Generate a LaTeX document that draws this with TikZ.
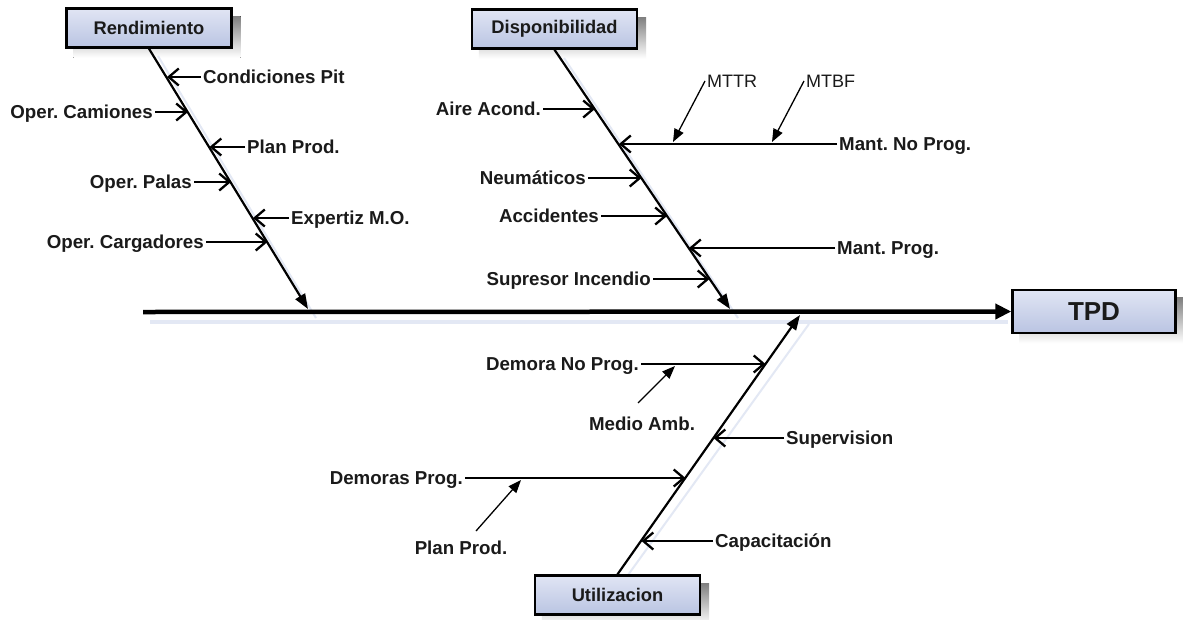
\documentclass[tikz,border=0pt]{standalone}
\usepackage{fontspec}
\setmainfont{Liberation Sans}
\usetikzlibrary{arrows.meta,calc}
\definecolor{boxtop}{HTML}{E0E5F4}
\definecolor{boxbot}{HTML}{BAC4E2}
\definecolor{shade}{HTML}{E3E8F4}
\definecolor{ink}{HTML}{1A1A1A}
\frenchspacing
\begin{document}
\begin{tikzpicture}[x=1pt,y=-1pt,
  catbox/.style={draw=black,line width=2.4pt,top color=boxtop,bottom color=boxbot,
    minimum width=165pt,minimum height=39pt,inner sep=0pt,text=ink,
    font=\bfseries\fontsize{18.3}{20}\selectfont},
  lbl/.style={font=\bfseries\fontsize{18.7}{20}\selectfont,text=ink,inner sep=2pt,
    text height=13.5pt,text depth=0pt},
  note/.style={font=\fontsize{18}{20}\selectfont,text=ink,inner sep=2pt,
    text height=13.5pt,text depth=0pt},
  branch/.style={line width=2.3pt,-{Straight Barb[length=10pt,width=17pt]}},
  spine/.style={line width=2.2pt,-{Triangle[length=15pt,width=11pt]}},
  mainline/.style={line width=4.5pt,-{Triangle[length=16pt,width=15pt]}},
  thin/.style={line width=1.3pt,-{Triangle[length=13pt,width=10pt]}},
  shadowline/.style={draw=shade,line width=3pt}]
\useasboundingbox (0,0) rectangle (1183,619);
\fill[white] (0,0) rectangle (1183,619);

% category boxes and effect box (placed first so their anchors exist)
\node[catbox] (rend) at (149,28) {Rendimiento};
\node[catbox] (disp) at (554.5,29) {Disponibilidad};
\node[catbox] (util) at (617.5,595) {Utilizacion};
\node[catbox,minimum width=163pt,minimum height=43pt,
      font=\bfseries\fontsize{26}{28}\selectfont] (tpd) at (1094,311.5) {TPD};

% soft shadows behind boxes and main lines
\foreach \b in {rend,disp,util,tpd}{
  \fill[shade] ($(\b.south west)+(8,9)$) rectangle ($(\b.north east)+(8,9)$);
}
\draw[shadowline,line width=4pt] (150,322) -- (1008,322);
\draw[shadowline,line width=2pt] (158,56) -- (316,318);
\draw[shadowline,line width=2pt] (564,58) -- (738,318);
\draw[shadowline,line width=2pt] (628,575) -- (809,324);

% boxes drawn again above their shadows
\node[catbox] at (rend) {Rendimiento};
\node[catbox] at (disp) {Disponibilidad};
\node[catbox] at (util) {Utilizacion};
\node[catbox,minimum width=163pt,minimum height=43pt,
      font=\bfseries\fontsize{26}{28}\selectfont] at (tpd) {TPD};

% main spine
\coordinate (m0) at (143,312);
\draw[mainline] (m0) -- (tpd.west);

% category spines
\coordinate (rtip) at (308,309);
\coordinate (dtip) at (730,309);
\coordinate (utip) at (800,315);
\draw[spine] (rend.south) -- (rtip);
\draw[spine] (disp.south) -- (dtip);
\draw[spine] (util.north) -- (utip);

% Rendimiento causes
\coordinate (r1) at (167,77);
\coordinate (r2) at (188,112);
\coordinate (r3) at (209.5,147);
\coordinate (r4) at (231,182);
\coordinate (r5) at (253,218);
\coordinate (r6) at (267.5,242);
\node[lbl,anchor=west] (cpit) at (201,77) {Condiciones Pit};
\node[lbl,anchor=east] (ocam) at (155,112) {Oper. Camiones};
\node[lbl,anchor=west] (pprod) at (245,147) {Plan Prod.};
\node[lbl,anchor=east] (opal) at (194,182) {Oper. Palas};
\node[lbl,anchor=west] (expm) at (289,218) {Expertiz M.O.};
\node[lbl,anchor=east] (ocar) at (206,242) {Oper. Cargadores};
\draw[branch] (cpit.west) -- (r1);
\draw[branch] (ocam.east) -- (r2);
\draw[branch] (pprod.west) -- (r3);
\draw[branch] (opal.east) -- (r4);
\draw[branch] (expm.west) -- (r5);
\draw[branch] (ocar.east) -- (r6);

% Disponibilidad causes
\coordinate (d1) at (595,109);
\coordinate (d2) at (619,144);
\coordinate (d3) at (641.5,178);
\coordinate (d4) at (667,216);
\coordinate (d5) at (689,248);
\coordinate (d6) at (709.5,279);
\node[lbl,anchor=east] (aire) at (543,109) {Aire Acond.};
\node[lbl,anchor=west] (mnp) at (837,144) {Mant. No Prog.};
\node[lbl,anchor=east] (neum) at (588,178) {Neumáticos};
\node[lbl,anchor=east] (acc) at (601,216) {Accidentes};
\node[lbl,anchor=west] (mp) at (835,248) {Mant. Prog.};
\node[lbl,anchor=east] (sup) at (653,279) {Supresor Incendio};
\draw[branch] (aire.east) -- (d1);
\draw[branch] (mnp.west) -- (d2);
\draw[branch] (neum.east) -- (d3);
\draw[branch] (acc.east) -- (d4);
\draw[branch] (mp.west) -- (d5);
\draw[branch] (sup.east) -- (d6);

% sub-causes of Mant. No Prog.
\coordinate (t1) at (673,142);
\coordinate (t2) at (772,142);
\node[note,anchor=west] (mttr) at (705,81) {MTTR};
\node[note,anchor=west] (mtbf) at (804,81) {MTBF};
\draw[thin] (mttr.west) -- (t1);
\draw[thin] (mtbf.west) -- (t2);

% Utilizacion causes
\coordinate (u1) at (765.5,364);
\coordinate (u2) at (713.5,438);
\coordinate (u3) at (685.5,478);
\coordinate (u4) at (641.5,541);
\node[lbl,anchor=east] (dnp) at (641,364) {Demora No Prog.};
\node[lbl,anchor=west] (superv) at (784,438) {Supervision};
\node[lbl,anchor=east] (dprog) at (465,478) {Demoras Prog.};
\node[lbl,anchor=west] (capa) at (713,541) {Capacitación};
\draw[branch] (dnp.east) -- (u1);
\draw[branch] (superv.west) -- (u2);
\draw[branch] (dprog.east) -- (u3);
\draw[branch] (capa.west) -- (u4);

% sub-causes of the delays
\node[lbl] (medio) at (642,424) {Medio Amb.};
\node[lbl] (plan2) at (461,548) {Plan Prod.};
\coordinate (ma0) at (638,403);
\coordinate (ma1) at (675,366);
\coordinate (pp0) at (476,531);
\coordinate (pp1) at (521,480);
\draw[thin] (ma0) -- (ma1);
\draw[thin] (pp0) -- (pp1);
\end{tikzpicture}
\end{document}
